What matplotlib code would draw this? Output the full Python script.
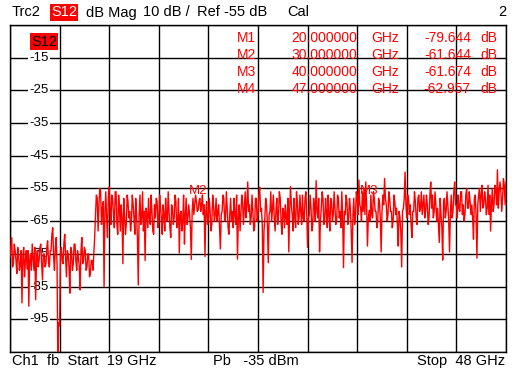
import matplotlib
matplotlib.use('Agg')
import matplotlib.pyplot as plt
import matplotlib.transforms as mtransforms
import numpy as np

# ---- data ----
start_ghz = 19.0
stop_ghz = 48.0
s12_db = [
    -76, -73, -70, -79, -78, -72, -74, -77, -81, -73, -75, -80, -78, -74, -90, -76, -73, -82, -77, -74,              # 19
    -79.6, -74, -91, -77, -75, -80, -72, -76, -80, -73, -89, -77, -74, -79, -77, -73, -72, -78, -83, -75,            # 20
    -75, -79, -78, -73, -71, -77, -79, -74, -74, -69, -67, -76, -80, -73, -70, -78, -110, -96, -97, -75,             # 21
    -73, -77, -78, -72, -69, -76, -82, -74, -75, -79, -87, -73, -74, -80, -78, -72, -72, -77, -80, -74,              # 22
    -76, -79, -86, -74, -70, -78, -77, -73, -74, -80, -79, -75, -75, -82, -81, -77, -77, -80, -75, -70,              # 23
    -63, -57, -58, -68, -60, -55, -56, -66, -61, -59, -85, -62, -56, -64, -70, -58, -54.5, -61, -66, -57,            # 24
    -58, -63, -67, -56, -56, -66, -69, -57, -61, -68, -60, -64, -78, -58, -63, -69, -66, -57, -59, -64,              # 25
    -62, -68, -65, -57, -60, -64, -69, -58, -63, -70, -84.5, -63, -57, -66, -64, -56, -68, -62, -77, -61,            # 26
    -63, -67, -58, -64, -66, -57, -62, -68, -69, -60, -64, -58, -59, -67, -65, -57, -61, -64, -69, -60,              # 27
    -63, -68, -58, -64, -65, -56, -62, -67, -70, -60, -61, -66, -64, -57, -59, -67, -66, -58, -74.7, -63,            # 28
    -62, -68, -65, -57, -72, -63, -58, -66, -64, -60, -63, -67, -76.7, -62, -58, -63, -60, -57, -59, -62,            # 29
    -61.6, -59, -58, -62, -60, -57, -63, -60, -75.8, -62, -59, -66, -64, -58, -62, -68, -66, -57, -60, -65,          # 30
    -63, -58, -65, -62, -60, -67, -73.5, -63, -62, -57, -58, -65, -64, -56, -61, -67, -69, -63, -58, -65,            # 31
    -62, -67, -58, -63, -66, -57, -76.6, -64, -60, -68, -63, -57, -59, -66, -61, -56, -64, -60, -53, -62,            # 32
    -60, -66, -64, -57, -62, -68, -67, -58, -58, -65, -63, -57, -54.6, -62, -61, -66, -86.8, -68, -64, -58,          # 33
    -60, -66, -77.7, -63, -62, -56, -65, -61, -57, -64, -68, -62, -58, -66, -63, -56, -58, -65, -69, -61,            # 34
    -62, -67, -60, -64, -66, -58, -74.4, -62, -54.4, -60, -63, -68, -58, -64, -67, -56, -59, -66, -64, -57,          # 35
    -62, -66, -57, -64, -65, -58, -56, -63, -73, -64, -63, -57, -61, -68, -66, -58, -60, -65, -52.6, -62,            # 36
    -64, -58, -74.4, -65, -61, -56, -58, -66, -65, -58, -62, -67, -57, -63, -68, -58, -59, -65, -63, -56,            # 37
    -61, -66, -65, -57, -58, -64, -62, -67, -56, -64, -79.2, -62, -63, -57, -59, -66, -64, -58, -61, -68,            # 38
    -77.6, -63, -58, -66, -63, -56, -58, -63, -52.4, -60, -61, -65, -56, -62, -55, -63, -53, -60, -72.6, -64,        # 39
    -61.7, -65, -57, -63, -64, -56, -58, -62, -62, -67, -65, -58, -59, -64, -74.4, -62, -57, -60, -51.9, -58,        # 40
    -60, -65, -63, -56, -58, -62, -62, -67, -65, -57, -59, -63, -61, -66, -72.6, -62, -64, -68, -79, -62,            # 41
    -61, -58, -50, -60, -64, -57, -58, -63, -60, -66, -70, -62, -62, -56, -59, -64, -66, -58, -57, -62,              # 42
    -61, -56, -63, -60, -57, -64, -62, -57, -60, -66, -64, -57, -53, -61, -57, -64, -62, -56, -60, -65,              # 43
    -61, -66, -71.5, -58, -63, -67, -76.9, -59, -58, -64, -62, -56, -60, -65, -74.4, -62, -57, -64, -62, -56,        # 44
    -53, -60, -60, -64, -57, -61, -62, -56, -56, -63, -60, -65, -63, -57, -55, -61, -61, -56, -59, -63,              # 45
    -60, -64, -70.5, -58, -57, -63, -76.3, -60, -57, -55, -62, -57, -54, -61, -60, -56, -58, -63, -61, -54,          # 46
    -62.957, -57, -68, -60, -55, -62, -60, -54, -55, -60, -49.3, -61, -56, -53, -56, -62, -58, -52, -54, -60,        # 47
    -53,                                                                                                              # 48
]
marker_names = ["M1", "M2", "M3", "M4"]
marker_freq = [20.0, 30.0, 40.0, 47.0]
marker_db = [-79.644, -61.644, -61.674, -62.957]
visible_marker_labels = ["M2", "M3"]
y_tick_labels = [-15, -25, -35, -45, -55, -65, -75, -85, -95]

# ---- figure ----
W, H = 512, 379
plt.rcParams['font.family'] = ['Liberation Sans', 'DejaVu Sans']
fig = plt.figure(figsize=(W / 100, H / 100), dpi=100)
fig.patch.set_facecolor('white')
ax = fig.add_axes([10 / W, 1 - 352 / H, 496 / W, 327 / H])
ax.set_xlim(start_ghz, stop_ghz)
ax.set_ylim(-105, -5)
ax.set_xticks(np.linspace(start_ghz, stop_ghz, 11))
ax.set_yticks(np.arange(-105, -4, 10))
ax.tick_params(length=0, labelbottom=False, labelleft=False)
ax.grid(True, color='black', lw=1.0)
ax.set_axisbelow(True)
for s in ax.spines.values():
    s.set_color('black')
    s.set_linewidth(1.0)

freq = np.linspace(start_ghz, stop_ghz, len(s12_db))
ax.plot(freq, s12_db, color='#ff0000', lw=1.0, zorder=3, clip_on=True)

# y labels inside the grid
tr = mtransforms.blended_transform_factory(ax.transAxes, ax.transData)
for v in y_tick_labels:
    ax.text(29 / 496, v, f"{v}", transform=tr, ha='center', va='center',
            fontsize=9.5, color='black', zorder=2.5,
            bbox=dict(facecolor='white', edgecolor='none', pad=1.2))

# marker labels (only those not hidden by the trace)
for n, f, d in zip(marker_names, marker_freq, marker_db):
    if n in visible_marker_labels:
        ax.annotate(n, (f, d), xytext=(0, 14), textcoords='offset points',
                    ha='center', va='center', color='#ff0000', fontsize=9.5, zorder=2.6)

# S12 label in plot
ax.text(34 / 496, 1 - 16.5 / 327, "S12", transform=ax.transAxes, ha='center', va='center',
        fontsize=10.5, color='black', zorder=4,
        bbox=dict(facecolor='#ff0000', edgecolor='none', pad=1.0))

# marker table
def fx(px):
    return px / W
def fy(py):
    return 1 - py / H

row_y = [38, 55, 72, 89]
for n, f, d, y in zip(marker_names, marker_freq, marker_db, row_y):
    kw = dict(color='#ff0000', fontsize=10, va='center', zorder=5)
    fig.text(fx(256), fy(y), n, ha='right', **kw)
    fig.text(fx(357), fy(y), f"{f:.6f}", ha='right', **kw)
    fig.text(fx(371), fy(y), "GHz", ha='left', **kw)
    fig.text(fx(471), fy(y), f"{d:.3f}", ha='right', **kw)
    fig.text(fx(497), fy(y), "dB", ha='right', **kw)

# header
hk = dict(fontsize=10.5, va='center', color='black')
fig.text(fx(12), fy(12.5), "Trc2", ha='left', **hk)
fig.text(fx(64), fy(12.5), "S12", ha='center', fontsize=10.5, va='center', color='white',
         bbox=dict(facecolor='#ff0000', edgecolor='none', pad=1.0))
fig.text(fx(86), fy(12.5), "dB Mag", ha='left', **hk)
fig.text(fx(143), fy(12.5), "10 dB /", ha='left', **hk)
fig.text(fx(197), fy(12.5), "Ref -55 dB", ha='left', **hk)
fig.text(fx(287), fy(12.5), "Cal", ha='left', **hk)
fig.text(fx(506), fy(12.5), "2", ha='right', **hk)

# footer
fig.text(fx(12), fy(361), "Ch1  fb  Start  19 GHz", ha='left', **hk)
fig.text(fx(213), fy(361), "Pb   -35 dBm", ha='left', **hk)
fig.text(fx(505), fy(361), "Stop  48 GHz", ha='right', **hk)

fig.savefig('out.png', dpi=100, facecolor='white')
